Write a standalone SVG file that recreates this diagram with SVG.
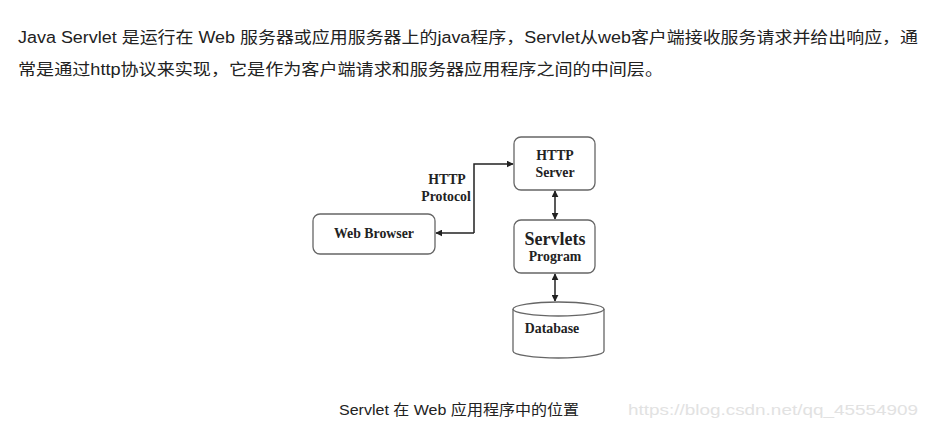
<svg xmlns="http://www.w3.org/2000/svg" width="927" height="431" viewBox="0 0 927 431">
<style>
.body{font-family:"Liberation Sans","Noto Sans CJK SC",sans-serif;font-size:16px;fill:#222}
.cap{font-family:"Liberation Sans","Noto Sans CJK SC",sans-serif;font-size:15px;fill:#222}
.wm{font-family:"Liberation Sans",sans-serif;font-size:15px;fill:#e2e2e2}
.box{fill:#fff;stroke:#666;stroke-width:1.3}
.lbl{font-family:"Liberation Serif",serif;font-weight:bold;font-size:13.8px;fill:#222;text-anchor:middle}
.big{font-size:18px}
.ln{fill:none;stroke:#222;stroke-width:1.5}
</style>
<defs>
<marker id="ah" viewBox="0 0 10 10" refX="9" refY="5" markerWidth="7" markerHeight="7" orient="auto-start-reverse" markerUnits="userSpaceOnUse">
<path d="M0,0 L10,5 L0,10 z" fill="#222"/>
</marker>
</defs>
<rect width="927" height="431" fill="#fff"/>
<text class="body" x="18" y="43" textLength="900" lengthAdjust="spacingAndGlyphs">Java Servlet 是运行在 Web 服务器或应用服务器上的java程序，Servlet从web客户端接收服务请求并给出响应，通</text>
<text class="body" x="18" y="75" textLength="645" lengthAdjust="spacingAndGlyphs">常是通过http协议来实现，它是作为客户端请求和服务器应用程序之间的中间层。</text>

<g id="connectors">
<path class="ln" d="M474,233 H436" marker-end="url(#ah)"/>
<path class="ln" d="M474,233 V164 H513" marker-end="url(#ah)"/>
<path class="ln" d="M555,191 V219" marker-start="url(#ah)" marker-end="url(#ah)"/>
<path class="ln" d="M555,274 V301" marker-start="url(#ah)" marker-end="url(#ah)"/>
</g>
<g id="protocol-label">
<text class="lbl" x="447" y="184">HTTP</text>
<text class="lbl" x="446" y="201">Protocol</text>
</g>
<g id="http-server">
<rect class="box" x="514" y="137" width="81" height="53" rx="7"/>
<text class="lbl" x="555" y="160">HTTP</text>
<text class="lbl" x="555" y="177">Server</text>
</g>
<g id="web-browser">
<rect class="box" x="313" y="214" width="122" height="40" rx="7"/>
<text class="lbl" x="374" y="238">Web Browser</text>
</g>
<g id="servlets">
<rect class="box" x="514" y="220" width="81" height="53" rx="7"/>
<text class="lbl big" x="555" y="245">Servlets</text>
<text class="lbl" x="555" y="261">Program</text>
</g>
<g id="database">
<path class="box" d="M513,309 V351 A45.5,7 0 0 0 604,351 V309"/>
<ellipse class="box" cx="558.5" cy="309" rx="45.5" ry="7"/>
<text class="lbl" x="552" y="333">Database</text>
</g>
<text class="cap" x="339" y="415" textLength="240" lengthAdjust="spacingAndGlyphs">Servlet 在 Web 应用程序中的位置</text>
<text class="wm" x="628" y="415" textLength="290" lengthAdjust="spacingAndGlyphs">https://blog.csdn.net/qq_45554909</text>
</svg>
